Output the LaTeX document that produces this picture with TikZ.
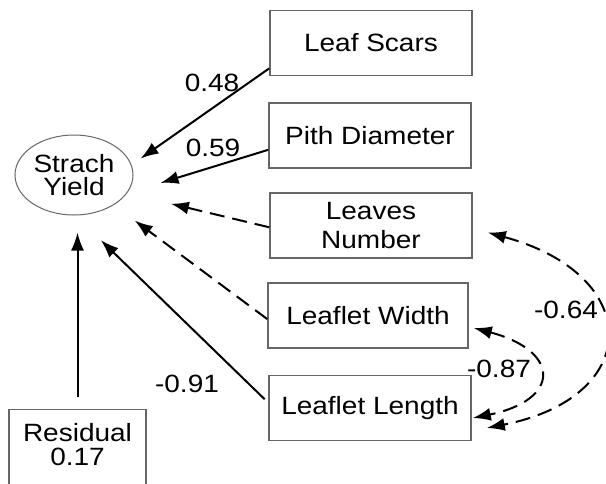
\documentclass[tikz,border=0pt]{standalone}
\usepackage{fontspec}
\setmainfont[FakeStretch=1.12]{Liberation Sans}
\usetikzlibrary{arrows.meta,shapes.geometric}
\begin{document}
\begin{tikzpicture}
    [x=0.5pt,y=-0.5pt,inner sep=0pt,font=\fontsize{12.5}{11.7}\selectfont,
     var/.style={rectangle,draw=black!60,line width=0.8pt,minimum width=101pt,minimum height=32.5pt,align=center},
     effect/.style={line width=1pt,-{Latex[length=9pt,width=6.5pt]}},
     corr/.style={effect,dash pattern=on 7.5pt off 4pt,{Latex[length=9pt,width=6.5pt]}-{Latex[length=9pt,width=6.5pt]}}]
    \useasboundingbox (0,0) rectangle (606,483);
    \clip (0,0) rectangle (606,483);
    \fill [white] (0,0) rectangle (606,483);
    \node (yield) at (74,175) [ellipse,draw=black!60,line width=0.5pt,minimum width=59pt,minimum height=40pt,align=center] {Strach\\Yield};
    \node (scars) at (371,43) [var] {Leaf Scars};
    \node (pith) at (370,135.5) [var] {Pith Diameter};
    \node (number) at (371,225.5) [var] {Leaves\\[2.5pt]Number};
    \node (width) at (368,315.5) [var,minimum width=100pt] {Leaflet Width};
    \node (length) at (370,408) [var] {Leaflet Length};
    \node (residual) at (77.5,465) [var,anchor=base,minimum width=68.5pt,minimum height=0pt,inner ysep=7pt,text depth=25pt] {Residual\\0.17};
    \draw [effect,shorten >=5.5pt] (scars.194) -- (yield.10.7);
    \draw [effect,shorten >=17.5pt] (pith.188) -- (yield.-19.1);
    \draw [effect,dash pattern=on 7.5pt off 4pt,shorten >=22.5pt] (number.181) -- (yield.-19.5);
    \draw [effect,dash pattern=on 7.5pt off 4pt,shorten >=13pt] (width.182) -- (yield.-37);
    \draw [effect,shorten <=2.5pt,shorten >=17.7pt] (length.177) -- (yield.-88.7);
    \draw [effect,shorten <=6pt,shorten >=8.5pt] (residual.north) -- (residual.north |- yield.south);
    \draw [corr] ([xshift=7.5pt,yshift=-3.5pt]number.east) .. controls (644,275) and (644,397) .. ([xshift=7.5pt,yshift=-10pt]length.east);
    \draw [corr] ([xshift=2.5pt,yshift=-6.25pt]width.east) .. controls (561,351) and (561,400) .. ([xshift=0.5pt,yshift=-5pt]length.east);
    \node (c1) at (212,83) {0.48};
    \node (c2) at (213,148) {0.59};
    \node (c5) at (187,384) {-0.91};
    \node (c6) at (566,310) {-0.64};
    \node (c7) at (499,369) {-0.87};
\end{tikzpicture}
\end{document}
